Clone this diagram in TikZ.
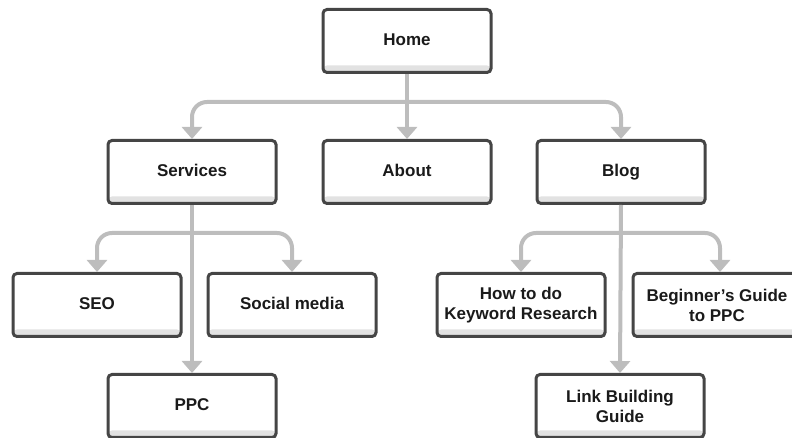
\documentclass[tikz,border=0pt]{standalone}
\usepackage{fontspec}
\setmainfont{Liberation Sans}
\usepackage{xcolor}
\usetikzlibrary{calc,arrows.meta}

\definecolor{boxline}{HTML}{454545}
\definecolor{boxstrip}{HTML}{E2E2E2}
\definecolor{linkgray}{HTML}{BDBDBD}
\definecolor{textdark}{HTML}{1A1A1A}

\tikzset{
    page/.style={draw=boxline, line width=3pt, rounded corners=4pt, fill=white,
        minimum width=168pt, minimum height=63pt, align=center, inner sep=0pt,
        text=textdark, font=\fontsize{17}{20}\selectfont\bfseries,
        path picture={\fill[boxstrip] (path picture bounding box.south west)
            rectangle ([yshift=7pt]path picture bounding box.south east);}},
    oneline/.style={page, text height=12.5pt, text depth=3.5pt},
    link/.style={draw=linkgray, line width=4pt, rounded corners=15pt},
    linkarrow/.style={link, -{Triangle[width=20pt,length=12pt]}}
}

\begin{document}
\begin{tikzpicture}[x=1pt, y=1pt]
    % Setup
    \useasboundingbox (0,0) rectangle (792,438);
    \clip (0,0) rectangle (792,438);

    % Top level
    \node[oneline] (home) at (407,397) {Home};
    \node[oneline] (services) at (192,266) {Services};
    \node[oneline] (about) at (407,266) {About};
    \node[oneline] (blog) at (621,266) {Blog};

    % Second level
    \node[oneline] (seo) at (97,133) {SEO};
    \node[oneline] (social) at (292,133) {Social media};
    \node[oneline] (ppc) at (192,32) {PPC};
    \node[page] (keyword) at (521,133) {How to do\\Keyword Research};
    \node[page] (guide) at (717,133) {Beginner’s Guide\\to PPC};
    \node[page] (linkbuild) at (620,32) {Link Building\\Guide};

    % Branch points
    \coordinate (homebar) at ($(home.south)+(0,-28)$);
    \coordinate (servbar) at ($(services.south)+(0,-28)$);
    \coordinate (blogbar) at ($(blog.south)+(0,-28)$);

    % Home links
    \draw[linkarrow] (home.south) -- (about.north);
    \draw[linkarrow] (homebar) -| (services.north);
    \draw[linkarrow] (homebar) -| (blog.north);

    % Services links
    \draw[linkarrow] (services.south) -- (ppc.north);
    \draw[linkarrow] (servbar) -| (seo.north);
    \draw[linkarrow] (servbar) -| (social.north);

    % Blog links
    \draw[linkarrow] (blog.south) -- (linkbuild.north);
    \draw[linkarrow] (blogbar) -| (keyword.north);
    \draw[linkarrow] ($(blogbar)+(-2,0)$) -| ($(guide.north)+(3,0)$);
\end{tikzpicture}
\end{document}
